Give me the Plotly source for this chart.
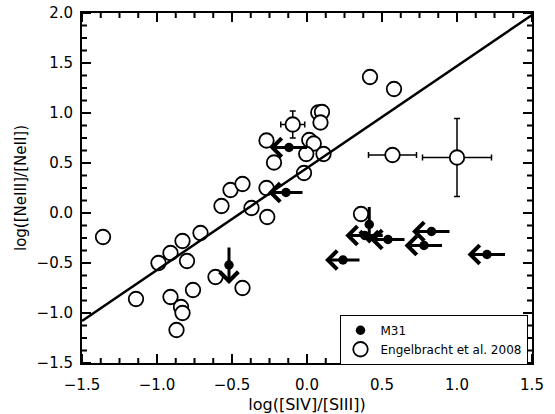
import numpy as np
import plotly.graph_objects as go

# Engelbracht et al. 2008 sample (open circles)
eng_x = [-1.36, -1.14, -0.99, -0.91, -0.91, -0.87, -0.84, -0.83, -0.83, -0.80,
         -0.76, -0.71, -0.61, -0.57, -0.51, -0.43, -0.43, -0.37, -0.27, -0.265,
         -0.27, -0.22, 0.075, 0.10, 0.09, 0.015, 0.045, -0.005, 0.11, -0.02,
         0.42, 0.58, 0.36]
eng_y = [-0.24, -0.86, -0.50, -0.40, -0.84, -1.17, -0.94, -1.00, -0.28, -0.48,
         -0.77, -0.20, -0.64, 0.07, 0.23, -0.75, 0.29, 0.05, 0.25, -0.04,
         0.725, 0.505, 1.005, 1.01, 0.905, 0.73, 0.695, 0.59, 0.59, 0.40,
         1.36, 1.24, -0.01]

# Engelbracht objects that carry error bars
eng_err_x = [-0.095, 0.57, 1.00]
eng_err_y = [0.885, 0.58, 0.555]
eng_err_dx = [0.08, 0.16, 0.23]
eng_err_dy = [0.135, 0.0, 0.39]

# M31 regions (filled); xerr/yerr give the length of the limit arrows
m31_x = [-0.12, -0.14, -0.52, 0.415, 0.385, 0.54, 0.24, 0.83, 0.78, 1.20]
m31_y = [0.655, 0.205, -0.52, -0.115, -0.225, -0.265, -0.47, -0.185, -0.325, -0.415]
m31_xerr = [0.13, 0.12, 0.0, 0.0, 0.13, 0.12, 0.12, 0.13, 0.13, 0.13]
m31_yerr = [0.0, 0.0, 0.19, 0.19, 0.0, 0.0, 0.0, 0.0, 0.0, 0.0]

# linear relation drawn across the full x range
fit_slope = 1.02
fit_intercept = 0.45
x_range = [-1.5, 1.5]
y_range = [-1.5, 2.0]

# tick values
x_major = [-1.5, -1.0, -0.5, 0.0, 0.5, 1.0, 1.5]
y_major = [-1.5, -1.0, -0.5, 0.0, 0.5, 1.0, 1.5, 2.0]
minor_step = 0.125

FONT = "DejaVu Sans"


def minor_ticks(rng, major):
    vals = np.arange(rng[0], rng[1] + 1e-9, minor_step)
    return [float(v) for v in vals if min(abs(v - m) for m in major) > 1e-6]


x_minor = minor_ticks(x_range, x_major)
y_minor = minor_ticks(y_range, y_major)

fig = go.Figure()

fig.add_trace(go.Scatter(
    x=eng_err_x, y=eng_err_y, mode="markers", showlegend=False,
    marker=dict(symbol="circle", size=14.5, color="white",
                line=dict(color="black", width=1.8)),
    error_x=dict(type="data", array=eng_err_dx, color="black", thickness=1.5, width=3),
    error_y=dict(type="data", array=eng_err_dy, color="black", thickness=1.5, width=3),
))

fig.add_trace(go.Scatter(
    x=eng_x, y=eng_y, mode="markers", name="Engelbracht et al. 2008",
    marker=dict(symbol="circle", size=14.5, color="white",
                line=dict(color="black", width=1.8)),
))

fig.add_trace(go.Scatter(
    x=x_range, y=[fit_slope * v + fit_intercept for v in x_range],
    mode="lines", showlegend=False, line=dict(color="black", width=2.5),
))

fig.add_trace(go.Scatter(
    x=m31_x, y=m31_y, mode="markers", name="M31",
    marker=dict(symbol="circle", size=9.5, color="black", line=dict(width=0)),
))

# upper-limit arrows for the M31 points
for x, y, dx, dy in zip(m31_x, m31_y, m31_xerr, m31_yerr):
    if dx > 0:
        fig.add_annotation(x=x - dx, y=y, ax=x + dx, ay=y, xref="x", yref="y",
                           axref="x", ayref="y", text="", showarrow=True,
                           arrowhead=4, arrowsize=1.2, arrowwidth=3, arrowcolor="black")
    if dy > 0:
        fig.add_annotation(x=x, y=y - dy, ax=x, ay=y + dy, xref="x", yref="y",
                           axref="x", ayref="y", text="", showarrow=True,
                           arrowhead=4, arrowsize=1.2, arrowwidth=3, arrowcolor="black")

# tick marks on all four sides of the frame: pixel-length segments centred on
# the frame line; shapes on data axes are clipped to the plot area, so only
# the inward half remains
tick_line = dict(color="black", width=2)
for ticks_x, half in [(x_major, 9), (x_minor, 5)]:
    for t in ticks_x:
        for edge in y_range:
            fig.add_shape(type="line", xref="x", yref="y", layer="above",
                          x0=t, x1=t, ysizemode="pixel", yanchor=edge,
                          y0=-half, y1=half, line=tick_line)
for ticks_y, half in [(y_major, 9), (y_minor, 5)]:
    for t in ticks_y:
        for edge in x_range:
            fig.add_shape(type="line", xref="x", yref="y", layer="above",
                          y0=t, y1=t, xsizemode="pixel", xanchor=edge,
                          x0=-half, x1=half, line=tick_line)

fig.update_layout(
    xaxis=dict(
        range=x_range, automargin=False,
        showgrid=False, zeroline=False, showline=True, linecolor="black", linewidth=2,
        mirror=True, ticks="", tickvals=x_major, tickformat=".1f",
        ticklabelstandoff=7,
        tickfont=dict(family=FONT, size=15, color="black"),
        title=dict(text="log([SIV]/[SIII])", font=dict(family=FONT, size=16, color="black"),
                   standoff=8),
    ),
    yaxis=dict(
        range=y_range, automargin=False,
        showgrid=False, zeroline=False, showline=True, linecolor="black", linewidth=2,
        mirror=True, ticks="", tickvals=y_major, tickformat=".1f",
        ticklabelstandoff=4,
        tickfont=dict(family=FONT, size=15, color="black"),
        title=dict(text="log([NeIII]/[NeII])", font=dict(family=FONT, size=15, color="black"),
                   standoff=6),
    ),
    width=555, height=414,
    margin=dict(l=82, r=23, t=13, b=51),
    plot_bgcolor="white", paper_bgcolor="white",
    font=dict(family=FONT, color="black"),
    legend=dict(x=0.99, xanchor="right", y=-0.005, yanchor="bottom",
                bordercolor="black", borderwidth=1, bgcolor="white",
                font=dict(family=FONT, size=12, color="black"),
                traceorder="reversed", itemsizing="trace", tracegroupgap=0),
)

fig.write_html("out.html")
